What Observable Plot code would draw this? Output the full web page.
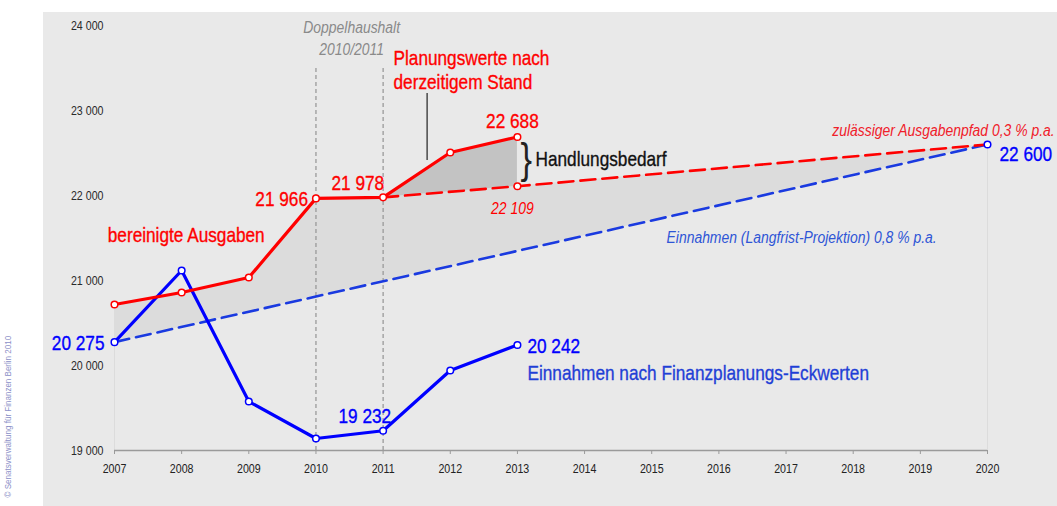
<!DOCTYPE html>
<html>
<head>
<meta charset="utf-8">
<script src="https://cdn.jsdelivr.net/npm/d3@7"></script>
<script src="https://cdn.jsdelivr.net/npm/@observablehq/plot@0.6"></script>
<style>
  html, body { margin: 0; padding: 0; background: #fff; }
  #chart svg { display: block; }
</style>
</head>
<body>
<div id="chart"></div>
<script>
// ---- data ----
const years = [2007, 2008, 2009, 2010, 2011, 2012, 2013];
const ausgaben = [20718, 20859, 21035, 21966, 21978, 22506, 22688];   // bereinigte Ausgaben
const einnahmen = [20275, 21118, 19576, 19141, 19232, 19941, 20242];  // Einnahmen nach Finanzplanungs-Eckwerten
const pfadYears = [2011, 2013, 2020];                                  // zulässiger Ausgabenpfad 0,3 % p.a.
const pfadVals = [21978, 22109, 22600];
const projYears = [2007, 2020];                                        // Einnahmen (Langfrist-Projektion) 0,8 % p.a.
const projVals = [20275, 22600];
const doppelYears = [2010, 2011];
const xTicks = [2007, 2008, 2009, 2010, 2011, 2012, 2013, 2014, 2015, 2016, 2017, 2018, 2019, 2020];
const yTicks = [19000, 20000, 21000, 22000, 23000, 24000];
const yTickLabels = ["19 000", "20 000", "21 000", "22 000", "23 000", "24 000"];

// ---- helpers ----
const fmt = d3.formatLocale({decimal: ",", thousands: " ", grouping: [3], currency: ["", ""]}).format(",");
const zip = (xs, ys) => xs.map((x, i) => ({x, y: ys[i]}));
const FONT = "'Liberation Sans', Arial, sans-serif";
const NARROW = 0.82; // Arial Narrow ≈ Arial compressed horizontally
const RED = "#ff0000", BLUE = "#0000ff", PANEL = "#e9e9e9";
const BIG = 21, SMALL = 17;
const heavy = c => ({fill: c, stroke: c, strokeWidth: 0.35, fontSize: BIG});

const ausg = zip(years, ausgaben);
const einn = zip(years, einnahmen);
const pfad = zip(pfadYears, pfadVals);
const proj = zip(projYears, projVals);
const planung = ausg.filter(d => d.x >= 2011);
const upper = ausg.filter(d => d.x <= 2011).concat(pfad.slice(1));
const pt = (arr, yr) => arr.find(d => d.x === yr);

const chart = Plot.plot({
  width: 1057,
  height: 506,
  marginLeft: 114,
  marginRight: 70,
  marginTop: 25,
  marginBottom: 56,
  style: {
    fontFamily: FONT,
    background: `linear-gradient(${PANEL}, ${PANEL}) 43px 12px / 1014px 494px no-repeat, #fff`,
    overflow: "visible"
  },
  x: {domain: [2007, 2020], label: null},
  y: {domain: [19000, 24000], label: null},
  marks: [
    // shaded areas
    Plot.areaY(planung, {x: "x", y1: 19000, y2: "y", fill: "#c3c3c3"}),
    Plot.areaY(upper, {x: "x", y1: 19000, y2: "y", fill: "#dcdcdc"}),
    Plot.areaY(proj, {x: "x", y1: 19000, y2: "y", fill: PANEL}),
    Plot.ruleX([proj[0], proj[1]], {x: "x", y1: 19000, y2: "y", stroke: "#dcdcdc", strokeWidth: 1}),

    // Doppelhaushalt markers
    Plot.ruleX(doppelYears, {y1: 19000, y2: 23530, stroke: "#9a9a9a", strokeWidth: 1.3, strokeDasharray: "4,3"}),

    // axes
    Plot.axisY(yTicks, {label: null, tickSize: 0, tickPadding: 11, fontSize: 13, fill: "#2a2a2a", tickFormat: d => yTickLabels[yTicks.indexOf(d)]}),
    Plot.axisX(xTicks, {label: null, tickSize: 4, tickPadding: 9, fontSize: 13, stroke: "#9a9a9a", fill: "#222", tickFormat: d => String(d)}),
    Plot.ruleY([19000], {stroke: "#9a9a9a", strokeWidth: 1.3}),

    // lines
    Plot.line(proj, {x: "x", y: "y", stroke: "#1a3ae0", strokeWidth: 2.6, strokeDasharray: "15,7"}),
    Plot.line(pfad, {x: "x", y: "y", stroke: RED, strokeWidth: 2.6, strokeDasharray: "15,7"}),
    Plot.line(einn, {x: "x", y: "y", stroke: BLUE, strokeWidth: 3.2}),
    Plot.line(ausg, {x: "x", y: "y", stroke: RED, strokeWidth: 3.2}),

    // points
    Plot.dot(einn, {x: "x", y: "y", r: 3.3, fill: "white", stroke: BLUE, strokeWidth: 1.5}),
    Plot.dot([proj[1]], {x: "x", y: "y", r: 3.3, fill: "white", stroke: BLUE, strokeWidth: 1.5}),
    Plot.dot(ausg, {x: "x", y: "y", r: 3.3, fill: "white", stroke: RED, strokeWidth: 1.5}),
    Plot.dot([pfad[1]], {x: "x", y: "y", r: 3.3, fill: "white", stroke: RED, strokeWidth: 1.5}),

    // value labels
    Plot.text([pt(ausg, 2010)], {x: "x", y: "y", text: d => fmt(d.y), ...heavy(RED), textAnchor: "end", dx: -8, dy: 1}),
    Plot.text([pt(ausg, 2011)], {x: "x", y: "y", text: d => fmt(d.y), ...heavy(RED), textAnchor: "end", dx: 1, dy: -14}),
    Plot.text([pt(ausg, 2013)], {x: "x", y: "y", text: d => fmt(d.y), ...heavy(RED), textAnchor: "middle", dx: -5, dy: -16}),
    Plot.text([pfad[1]], {x: "x", y: "y", text: d => fmt(d.y), fill: RED, fontSize: SMALL, fontStyle: "italic", textAnchor: "middle", dx: -5, dy: 22}),
    Plot.text([pt(einn, 2007)], {x: "x", y: "y", text: d => fmt(d.y), ...heavy(BLUE), textAnchor: "end", dx: -10, dy: 1}),
    Plot.text([pt(einn, 2011)], {x: "x", y: "y", text: d => fmt(d.y), ...heavy(BLUE), textAnchor: "end", dx: 8, dy: -15}),
    Plot.text([pt(einn, 2013)], {x: "x", y: "y", text: d => fmt(d.y), ...heavy(BLUE), textAnchor: "start", dx: 10, dy: 1}),
    Plot.text([proj[1]], {x: "x", y: "y", text: d => fmt(d.y), ...heavy(BLUE), textAnchor: "start", dx: 12, dy: 10}),

    // annotations
    Plot.text(["Doppelhaushalt\n2010/2011"], {x: 2010.53, y: 23870, fill: "#8a8a8a", fontSize: SMALL, fontStyle: "italic", textAnchor: "middle", lineHeight: 1.3}),
    Plot.text(["Planungswerte nach\nderzeitigem Stand"], {x: 2011.155, y: 23482, ...heavy(RED), textAnchor: "start", lineHeight: 1.15}),
    Plot.ruleX([2011.655], {y1: 22412, y2: 23200, stroke: "#222", strokeWidth: 1.2}),
    Plot.text(["}"], {x: 2013.13, y: 22420, fill: "#222", fontSize: 42, textAnchor: "middle"}),
    Plot.text(["Handlungsbedarf"], {x: 2013.27, y: 22424, ...heavy("#111"), textAnchor: "start"}),
    Plot.text(["bereinigte Ausgaben"], {x: 2006.9, y: 21529, ...heavy(RED), textAnchor: "start"}),
    Plot.text(["Einnahmen nach Finanzplanungs-Eckwerten"], {x: 2013.15, y: 19906, ...heavy("#1f3fd6"), textAnchor: "start"}),
    Plot.text(["Einnahmen (Langfrist-Projektion) 0,8 % p.a."], {x: 2015.22, y: 21506, fill: "#2e55d6", fontSize: SMALL, fontStyle: "italic", textAnchor: "start"}),
    Plot.text(["zulässiger Ausgabenpfad 0,3 % p.a."], {x: 2021, y: 22765, fill: "#f0202a", fontSize: SMALL, fontStyle: "italic", textAnchor: "end"}),
    Plot.text(["© Senatsverwaltung für Finanzen Berlin 2010"], {frameAnchor: "bottom-left", dx: -104, dy: 47, rotate: -90, textAnchor: "start", fontSize: 9.8, fill: "#8c90c8"})
  ]
});
document.getElementById("chart").append(chart);

// compress every text horizontally around its own anchor (narrow type)
for (const t of chart.querySelectorAll("text")) {
  const b = t.getBBox();
  const anchor = getComputedStyle(t).textAnchor;
  const ax = anchor === "end" ? b.x + b.width : anchor === "middle" ? b.x + b.width / 2 : b.x;
  const tr = t.getAttribute("transform") || "";
  t.setAttribute("transform", `${tr} translate(${ax},0) scale(${NARROW},1) translate(${-ax},0)`.trim());
}
</script>
</body>
</html>
